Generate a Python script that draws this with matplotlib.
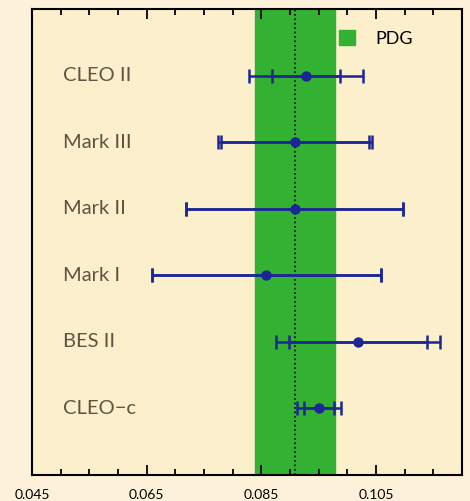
import matplotlib
matplotlib.use('Agg')
import matplotlib.pyplot as plt
from matplotlib.patches import Patch
from matplotlib.ticker import MultipleLocator, FixedLocator
import numpy as np

experiments = ['CLEO\u2212c', 'BES II', 'Mark I', 'Mark II', 'Mark III', 'CLEO II']
values = [0.0951, 0.1019, 0.0859, 0.0908, 0.0909, 0.0928]
stat_err = [0.0026, 0.0120, 0.0200, 0.0189, 0.0129, 0.0060]
total_err = [0.0038, 0.0143, 0.0200, 0.0189, 0.0134, 0.0100]
pdg_value = 0.0909
pdg_err = 0.0070
xticks = [0.045, 0.065, 0.085, 0.105]

blue = '#1c2694'
green = '#33b133'

fig = plt.figure(figsize=(4.7, 5.01), dpi=100, facecolor='#fdf1da')
ax = fig.add_axes([0.068, 0.052, 0.915, 0.930])
ax.set_facecolor('#fcefcc')

ypos = np.arange(len(experiments))

ax.axvspan(pdg_value - pdg_err, pdg_value + pdg_err, color=green, zorder=1)
ax.axvline(pdg_value, color='black', ls=':', lw=1.2, zorder=2)

# total errors (outer caps)
ax.errorbar(values, ypos, xerr=total_err, fmt='none', ecolor=blue,
            elinewidth=1.8, capsize=5, capthick=1.8, zorder=3)
# statistical errors (inner caps)
ax.errorbar(values, ypos, xerr=stat_err, fmt='o', color=blue, ms=6.5,
            ecolor=blue, elinewidth=1.8, capsize=5, capthick=1.8, zorder=4)

for y, name in zip(ypos, experiments):
    ax.text(0.0505, y, name, fontsize=14.5, color='#5e5442', va='center',
            ha='left', family='Lato')

ax.set_xlim(0.045, 0.12)
ax.set_ylim(-1, 6)
ax.set_yticks([])
ax.xaxis.set_major_locator(FixedLocator(xticks))
ax.xaxis.set_minor_locator(MultipleLocator(0.005))
ax.set_xticklabels([f'{t:.3f}' for t in xticks], fontsize=10, family='Lato')
ax.tick_params(axis='x', which='both', direction='in', top=True, bottom=True, pad=10)
ax.tick_params(axis='x', which='major', length=7, width=1.3)
ax.tick_params(axis='x', which='minor', length=4, width=1.3)
for sp in ax.spines.values():
    sp.set_linewidth(1.5)

ax.legend(handles=[Patch(color=green, label='PDG')], loc='upper right',
          frameon=False, handlelength=0.9, handleheight=0.9, handletextpad=1.1,
          prop={'family': 'Lato', 'size': 13}, bbox_to_anchor=(0.923, 0.99))

fig.savefig('out.png', dpi=100, facecolor=fig.get_facecolor())
